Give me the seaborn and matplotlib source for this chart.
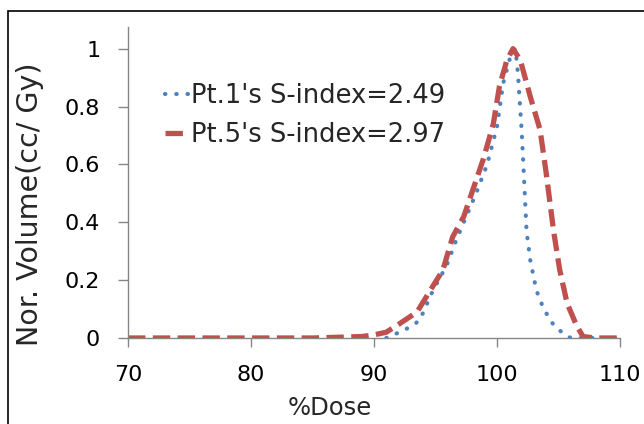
import matplotlib
matplotlib.use("Agg")
import matplotlib.pyplot as plt
import seaborn as sns
import pandas as pd
from matplotlib.patches import Rectangle

# Pt.1 (blue dotted)
pt1_dose = [91.0, 91.8, 92.8, 93.7, 94.8, 95.9, 96.7, 97.5, 98.3, 99.2, 100.0, 100.5,
            101.1, 101.5, 101.7, 102.0, 102.2, 102.4, 102.7, 103.2, 103.8, 104.6,
            105.4, 106.0, 107.0, 108.0, 109.0, 110.0]
pt1_vol = [0.0, 0.015, 0.035, 0.06, 0.165, 0.25, 0.34, 0.42, 0.50, 0.60, 0.73, 0.88,
           0.975, 1.0, 0.915, 0.72, 0.55, 0.37, 0.27, 0.165, 0.10, 0.045,
           0.015, 0.0, 0.0, 0.0, 0.0, 0.0]

# Pt.5 (red dashed)
pt5_dose = [70.0, 75.0, 80.0, 85.0, 89.0, 89.9, 91.0, 92.1, 93.5, 94.8, 95.6, 96.4,
            97.3, 98.1, 98.9, 99.7, 100.2, 100.8, 101.3, 101.9, 102.7, 103.5, 104.0,
            104.6, 105.1, 105.7, 106.5, 107.0, 108.0, 110.0]
pt5_vol = [0.0, 0.0, 0.0, 0.0, 0.005, 0.01, 0.02, 0.05, 0.09, 0.18, 0.235, 0.35,
           0.42, 0.52, 0.62, 0.74, 0.87, 0.96, 1.0, 0.96, 0.835, 0.72, 0.57,
           0.37, 0.235, 0.12, 0.04, 0.005, 0.0, 0.0]

labels = ["Pt.1's S-index=2.49", "Pt.5's S-index=2.97"]
x_ticks = [70, 80, 90, 100, 110]
y_ticks = [0, 0.2, 0.4, 0.6, 0.8, 1]
y_tick_labels = ["0", "0.2", "0.4", "0.6", "0.8", "1"]

sns.set_style("white")
plt.rcParams['font.family'] = ['DejaVu Sans']

fig = plt.figure(figsize=(6.44, 4.24), dpi=100)
ax = fig.add_axes([128/644, 1-338/424, (620-128)/644, (338-27)/424])

df1 = pd.DataFrame({"x": pt1_dose, "y": pt1_vol})
df5 = pd.DataFrame({"x": pt5_dose, "y": pt5_vol})

sns.lineplot(data=df1, x="x", y="y", ax=ax, color="#4F81BD", lw=3.0,
             linestyle=(0, (0.1, 2.6)), dash_capstyle="round", label=labels[0],
             sort=False)
sns.lineplot(data=df5, x="x", y="y", ax=ax, color="#C0504D", lw=3.8,
             linestyle=(0, (3.3, 1.4)), label=labels[1], sort=False)

ax.set_xlim(70, 110)
ax.set_ylim(0, 1.075)
ax.set_xticks(x_ticks)
ax.set_yticks(y_ticks)
ax.set_yticklabels(y_tick_labels)

for s in ["top", "right"]:
    ax.spines[s].set_visible(False)
for s in ["left", "bottom"]:
    ax.spines[s].set_color("#868686")
    ax.spines[s].set_linewidth(1.0)
ax.spines["bottom"].set_zorder(0)

ax.tick_params(axis="x", direction="out", length=6.5, width=1.0, color="#868686",
               pad=13, labelsize=16, labelcolor="black", bottom=True)
ax.tick_params(axis="y", direction="out", length=7, width=1.0, color="#868686",
               pad=13, labelsize=16, labelcolor="black", left=True)

ax.set_xlabel("%Dose", fontsize=17.5)
ax.set_ylabel("Nor. Volume(cc/ Gy)", fontsize=20.5)
ax.xaxis.set_label_coords(0.41, -0.185)
ax.yaxis.set_label_coords(-0.17, 0.43)

leg = ax.legend(loc="upper left", bbox_to_anchor=(0.075, 0.82), frameon=False,
                fontsize=18.5, handlelength=0.9, handletextpad=0.1,
                borderpad=0, borderaxespad=0, labelspacing=0.5)

fig.patches.append(Rectangle((8/644, -0.1), 1.2, 1.1 - 11/424, transform=fig.transFigure,
                             fill=False, edgecolor="black", lw=1.2))

fig.savefig("out.png", dpi=100)
